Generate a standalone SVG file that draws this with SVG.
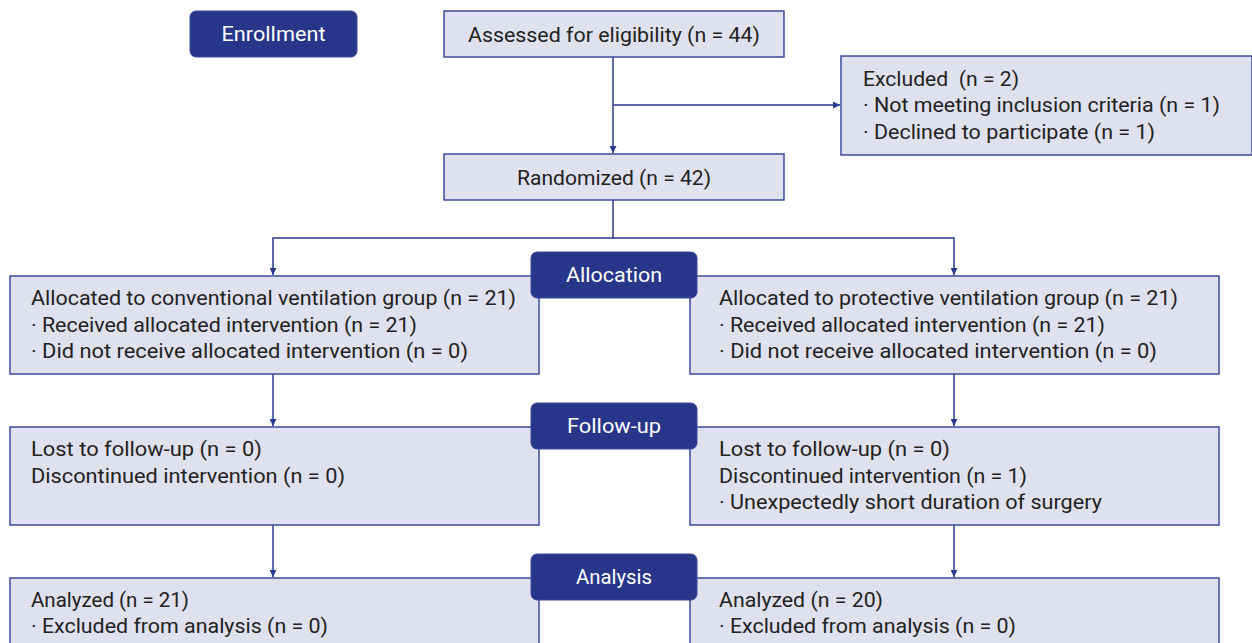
<svg xmlns="http://www.w3.org/2000/svg" width="1252" height="643" viewBox="0 0 1252 643">
<style>
.box{fill:#dfe1ee;stroke:#3b4a9c;stroke-width:1.5}
.lab{fill:#283689;stroke:#3b4a9c;stroke-width:1}
.t{font-family:Roboto,"Liberation Sans",sans-serif;font-size:20px;fill:#222;white-space:pre}
.w{font-family:Roboto,"Liberation Sans",sans-serif;font-size:20px;fill:#fff}
.c{fill:none;stroke:#2b3a8e;stroke-width:1.5}
</style>
<defs>
<marker id="ah" viewBox="0 0 10 10" refX="10" refY="5" markerWidth="7" markerHeight="7" orient="auto" markerUnits="userSpaceOnUse">
<path d="M0,0 L10,5 L0,10 z" fill="#2b3a8e"/>
</marker>
</defs>
<rect width="1252" height="643" fill="#fff"/>
<g id="connectors">
<path class="c" d="M613,57 V153" marker-end="url(#ah)"/>
<path class="c" d="M613,105 H840" marker-end="url(#ah)"/>
<path class="c" d="M613,200 V238 H273 V275" marker-end="url(#ah)"/>
<path class="c" d="M613,238 H954 V275" marker-end="url(#ah)"/>
<path class="c" d="M273,374 V426" marker-end="url(#ah)"/>
<path class="c" d="M954,374 V426" marker-end="url(#ah)"/>
<path class="c" d="M273,525 V577" marker-end="url(#ah)"/>
<path class="c" d="M954,525 V577" marker-end="url(#ah)"/>
</g>
<g id="enrollment">
<rect class="lab" x="190" y="11" width="167" height="46" rx="6"/>
<text class="w" x="273.5" y="41" text-anchor="middle" textLength="104" lengthAdjust="spacingAndGlyphs">Enrollment</text>
</g>
<g id="assessed">
<rect class="box" x="444" y="11" width="340" height="46"/>
<text class="t" x="468" y="42" textLength="292" lengthAdjust="spacingAndGlyphs">Assessed for eligibility (n = 44)</text>
</g>
<g id="excluded">
<rect class="box" x="841" y="56" width="411" height="99"/>
<text class="t" x="863" y="86" textLength="156" lengthAdjust="spacingAndGlyphs" xml:space="preserve">Excluded  (n = 2)</text>
<text class="t" x="863" y="112" textLength="357" lengthAdjust="spacingAndGlyphs">· Not meeting inclusion criteria (n = 1)</text>
<text class="t" x="863" y="139" textLength="292" lengthAdjust="spacingAndGlyphs">· Declined to participate (n = 1)</text>
</g>
<g id="randomized">
<rect class="box" x="444" y="154" width="340" height="46"/>
<text class="t" x="517" y="185" textLength="194" lengthAdjust="spacingAndGlyphs">Randomized (n = 42)</text>
</g>
<g id="alloc-left">
<rect class="box" x="10" y="276" width="529" height="98"/>
<text class="t" x="31" y="305" textLength="485" lengthAdjust="spacingAndGlyphs">Allocated to conventional ventilation group (n = 21)</text>
<text class="t" x="31" y="332" textLength="386" lengthAdjust="spacingAndGlyphs">· Received allocated intervention (n = 21)</text>
<text class="t" x="31" y="358" textLength="437" lengthAdjust="spacingAndGlyphs">· Did not receive allocated intervention (n = 0)</text>
</g>
<g id="alloc-right">
<rect class="box" x="690" y="276" width="529" height="98"/>
<text class="t" x="719" y="305" textLength="459" lengthAdjust="spacingAndGlyphs">Allocated to protective ventilation group (n = 21)</text>
<text class="t" x="719" y="332" textLength="386" lengthAdjust="spacingAndGlyphs">· Received allocated intervention (n = 21)</text>
<text class="t" x="719" y="358" textLength="438" lengthAdjust="spacingAndGlyphs">· Did not receive allocated intervention (n = 0)</text>
</g>
<g id="allocation">
<rect class="lab" x="531" y="252" width="166" height="46" rx="6"/>
<text class="w" x="614" y="282" text-anchor="middle" textLength="96" lengthAdjust="spacingAndGlyphs">Allocation</text>
</g>
<g id="follow-left">
<rect class="box" x="10" y="427" width="529" height="98"/>
<text class="t" x="31" y="456" textLength="231" lengthAdjust="spacingAndGlyphs">Lost to follow-up (n = 0)</text>
<text class="t" x="31" y="483" textLength="314" lengthAdjust="spacingAndGlyphs">Discontinued intervention (n = 0)</text>
</g>
<g id="follow-right">
<rect class="box" x="690" y="427" width="529" height="98"/>
<text class="t" x="719" y="456" textLength="231" lengthAdjust="spacingAndGlyphs">Lost to follow-up (n = 0)</text>
<text class="t" x="719" y="483" textLength="308" lengthAdjust="spacingAndGlyphs">Discontinued intervention (n = 1)</text>
<text class="t" x="719" y="509" textLength="383" lengthAdjust="spacingAndGlyphs">· Unexpectedly short duration of surgery</text>
</g>
<g id="followup">
<rect class="lab" x="531" y="403" width="166" height="46" rx="6"/>
<text class="w" x="614" y="433" text-anchor="middle" textLength="94" lengthAdjust="spacingAndGlyphs">Follow-up</text>
</g>
<g id="analysis-left">
<rect class="box" x="10" y="578" width="529" height="80"/>
<text class="t" x="31" y="607" textLength="158" lengthAdjust="spacingAndGlyphs">Analyzed (n = 21)</text>
<text class="t" x="31" y="633" textLength="297" lengthAdjust="spacingAndGlyphs">· Excluded from analysis (n = 0)</text>
</g>
<g id="analysis-right">
<rect class="box" x="690" y="578" width="529" height="80"/>
<text class="t" x="719" y="607" textLength="164" lengthAdjust="spacingAndGlyphs">Analyzed (n = 20)</text>
<text class="t" x="719" y="633" textLength="297" lengthAdjust="spacingAndGlyphs">· Excluded from analysis (n = 0)</text>
</g>
<g id="analysis">
<rect class="lab" x="531" y="554" width="166" height="46" rx="6"/>
<text class="w" x="614" y="584" text-anchor="middle" textLength="76" lengthAdjust="spacingAndGlyphs">Analysis</text>
</g>
</svg>
